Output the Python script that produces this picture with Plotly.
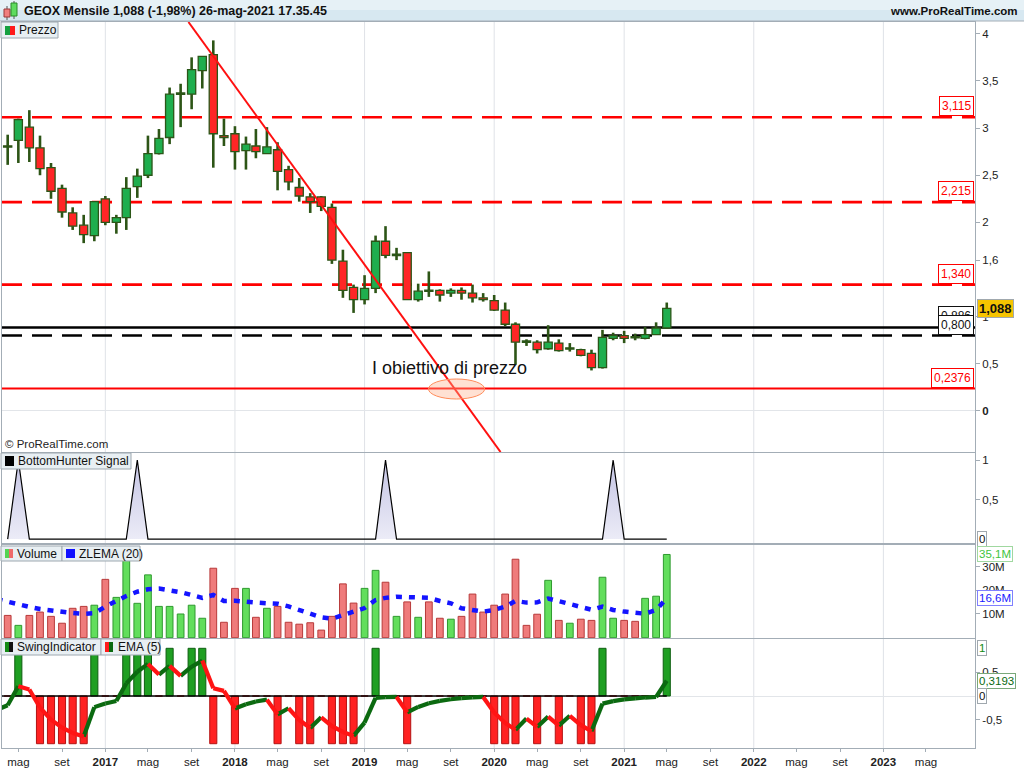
import pandas as pd
import plotly.graph_objects as go
from plotly.subplots import make_subplots

W, H = 1024, 768

# ---------------- data ----------------
MONTHS = list(pd.date_range("2016-04-01", periods=62, freq="MS"))
IND_MONTHS = list(pd.date_range("2016-03-01", periods=63, freq="MS"))

OPEN = [2.81, 2.87, 3.01, 2.79, 2.58, 2.36, 2.10, 1.97, 1.86, 2.25,
        2.00, 2.05, 2.38, 2.50, 2.73, 2.90, 3.36, 3.36, 3.61, 3.78,
        2.92, 2.94, 2.76, 2.81, 2.73, 2.77, 2.56, 2.37, 2.27, 2.27,
        2.16, 1.59, 1.31, 1.18, 1.30, 1.80, 1.65, 1.68, 1.18, 1.28,
        1.28, 1.25, 1.28, 1.25, 1.20, 1.17, 1.07, 0.92, 0.74, 0.73,
        0.66, 0.72, 0.66, 0.65, 0.61, 0.46, 0.77, 0.80, 0.785, 0.77,
        0.81, 0.88]
HIGH = [2.93, 3.10, 3.19, 2.92, 2.63, 2.40, 2.16, 2.08, 2.22, 2.28,
        2.08, 2.48, 2.57, 2.92, 2.99, 3.43, 3.47, 3.75, 3.76, 3.93,
        3.10, 3.02, 2.91, 2.99, 3.01, 2.85, 2.60, 2.47, 2.31, 2.28,
        2.20, 1.71, 1.34, 1.44, 1.86, 1.96, 1.73, 1.68, 1.35, 1.48,
        1.29, 1.30, 1.31, 1.34, 1.25, 1.23, 1.15, 0.94, 0.76, 0.75,
        0.91, 0.76, 0.72, 0.66, 0.65, 0.86, 0.83, 0.85, 0.82, 0.89,
        0.94, 1.15]
LOW = [2.61, 2.63, 2.64, 2.50, 2.25, 2.05, 1.92, 1.78, 1.80, 1.97,
       1.88, 1.92, 2.26, 2.47, 2.72, 2.83, 3.01, 3.20, 3.42, 2.58,
       2.81, 2.56, 2.56, 2.68, 2.73, 2.34, 2.34, 2.22, 2.10, 2.12,
       1.56, 1.20, 1.04, 1.13, 1.25, 1.62, 1.60, 1.18, 1.16, 1.21,
       1.16, 1.21, 1.18, 1.15, 1.16, 1.06, 0.90, 0.49, 0.69, 0.61,
       0.65, 0.63, 0.63, 0.58, 0.43, 0.45, 0.75, 0.72, 0.75, 0.76,
       0.81, 0.87]
CLOSE = [2.80, 3.09, 2.79, 2.57, 2.33, 2.11, 1.96, 1.87, 2.22, 2.00,
         2.05, 2.36, 2.49, 2.73, 2.89, 3.36, 3.37, 3.62, 3.76, 2.94,
         2.90, 2.75, 2.83, 2.75, 2.80, 2.54, 2.43, 2.28, 2.22, 2.17,
         1.60, 1.28, 1.18, 1.30, 1.80, 1.65, 1.66, 1.18, 1.27, 1.27,
         1.23, 1.28, 1.25, 1.20, 1.18, 1.07, 0.92, 0.73, 0.73, 0.65,
         0.73, 0.64, 0.665, 0.59, 0.46, 0.78, 0.80, 0.77, 0.78, 0.81,
         0.88, 1.088]

VOLUME_M = [9.4, 5.2, 9.4, 10.8, 9.0, 6.1, 12.4, 13.2, 13.7, 24.6,
            17.0, 33.0, 14.5, 26.5, 13.2, 13.2, 10.0, 13.7, 8.2, 29.3,
            6.5, 20.8, 20.8, 8.6, 12.4, 13.2, 6.5, 5.7, 6.3, 3.2,
            9.0, 22.7, 14.6, 20.8, 28.4, 23.4, 9.0, 15.1, 8.6, 15.1,
            8.2, 7.8, 9.0, 18.4, 10.8, 13.7, 18.4, 33.1, 5.2, 9.9,
            24.2, 7.3, 6.1, 7.8, 7.3, 25.5, 8.2, 7.3, 6.9, 16.6,
            17.5, 35.1]
ZLEMA_M = [16.3, 15.1, 13.9, 13.0, 12.1, 11.4, 11.0, 10.4, 10.1, 10.3,
           13.1, 15.6, 17.6, 19.4, 20.4, 20.7, 20.0, 19.2, 18.0, 16.8,
           18.0, 15.5, 15.6, 15.4, 14.8, 14.5, 14.3, 13.2, 11.7, 10.0,
           8.6, 8.0, 9.5, 10.8, 12.5, 15.9, 16.8, 17.3, 17.2, 17.3,
           16.8, 15.5, 14.5, 12.4, 11.6, 11.0, 11.7, 13.1, 15.5, 14.8,
           14.9, 16.5, 15.4, 14.2, 13.0, 11.8, 13.1, 11.7, 11.0, 10.5,
           10.1, 11.7, 16.6]

BOTTOM_HUNTER = [0, 1, 0, 0, 0, 0, 0, 0, 0, 0,
                 0, 0, 1, 0, 0, 0, 0, 0, 0, 0,
                 0, 0, 0, 0, 0, 0, 0, 0, 0, 0,
                 0, 0, 0, 0, 0, 1, 0, 0, 0, 0,
                 0, 0, 0, 0, 0, 0, 0, 0, 0, 0,
                 0, 0, 0, 0, 0, 0, 1, 0, 0, 0,
                 0, 0]

SWING = [0, 1, 0, -1, -1, -1, -1, -1, 1, 0,
         0, 1, 1, 1, 0, 1, 0, 1, 1, -1,
         0, -1, 0, 0, 0, -1, 0, -1, -1, 0,
         -1, -1, -1, 0, 1, 0, 0, -1, 0, 0,
         0, 0, 0, 0, 0, -1, -1, -1, 0, -1,
         0, -1, 0, -1, -1, 1, 0, 0, 0, 0,
         0, 1]
SWING_EMA = [-0.29, -0.193, 0.204, 0.136, -0.242, -0.495, -0.663, -0.775, -0.850, -0.233,
             -0.156, -0.104, 0.264, 0.509, 0.673, 0.449, 0.632, 0.421, 0.614, 0.743,
             0.162, 0.108, -0.261, -0.174, -0.116, -0.077, -0.385, -0.256, -0.504, -0.670,
             -0.447, -0.631, -0.754, -0.836, -0.557, -0.038, -0.025, -0.017, -0.345, -0.230,
             -0.153, -0.102, -0.068, -0.045, -0.030, -0.020, -0.347, -0.565, -0.710, -0.473,
             -0.649, -0.432, -0.622, -0.415, -0.610, -0.740, -0.160, -0.107, -0.071, -0.048,
             -0.032, -0.021, 0.3193]

DASHED_RED_LEVELS = [3.115, 2.215, 1.340]
DASHED_RED_LABELS = ["3,115", "2,215", "1,340"]
SOLID_BLACK_LEVEL, SOLID_BLACK_LABEL = 0.886, "0,886"
DASHED_BLACK_LEVEL, DASHED_BLACK_LABEL = 0.800, "0,800"
TARGET_LEVEL, TARGET_LABEL = 0.2376, "0,2376"
LAST_PRICE_LABEL = "1,088"

TREND_X = ["2017-08-23", "2020-01-19"]
TREND_Y = [4.125, -0.435]

PRICE_TICKS = [0, 0.5, 1, 1.6, 2, 2.5, 3, 3.5, 4]
PRICE_TICKTEXT = ["<b>0</b>", "0,5", "1", "1,6", "2", "2,5", "3", "3,5", "4"]

X_TICKS = []
X_TICKTEXT = []
for yr in range(2016, 2024):
    for mo, lab in [(1, None), (5, "mag"), (9, "set")]:
        d = pd.Timestamp(yr, mo, 1)
        if d < pd.Timestamp("2016-04-01") or d > pd.Timestamp("2023-06-01"):
            continue
        X_TICKS.append(d)
        X_TICKTEXT.append(lab if lab else "<b>%d</b>" % yr)

TITLE = "GEOX Mensile 1,088 (-1,98%) 26-mag-2021 17.35.45"

# ---------------- styling constants ----------------
FONT = "Liberation Sans, Arial, sans-serif"
GREEN_BODY, RED_BODY, CANDLE_EDGE = "#1fae4e", "#ff2626", "#2b5618"
DAY_MS = 86400000

def xp(px):
    return px / W

def yp(py):
    return 1 - py / H

P_TOP, P_BOT = 22, 452
B_TOP, B_BOT = 453, 543
V_TOP, V_BOT = 545, 638
S_TOP, S_BOT = 639, 748
X_L, X_R = 2, 975

fig = make_subplots(rows=4, cols=1, shared_xaxes=True, vertical_spacing=0.0)

# ---------------- price panel ----------------
up = [c >= o for o, c in zip(OPEN, CLOSE)]
body_base, body_h = [], []
for o, c in zip(OPEN, CLOSE):
    lo, hi = min(o, c), max(o, c)
    if hi - lo < 0.014:
        mid = (hi + lo) / 2
        body_base.append(mid - 0.007)
        body_h.append(0.014)
    else:
        body_base.append(lo)
        body_h.append(hi - lo)

wx, wy = [], []
for d, o, h, l, c in zip(MONTHS, OPEN, HIGH, LOW, CLOSE):
    top, bot = max(o, c), min(o, c)
    if h > top:
        wx += [d, d, None]
        wy += [h, top, None]
    if l < bot:
        wx += [d, d, None]
        wy += [bot, l, None]

fig.add_trace(go.Bar(x=MONTHS, y=body_h, base=body_base, width=23 * DAY_MS,
                     marker=dict(color=[GREEN_BODY if u else RED_BODY for u in up],
                                 line=dict(color=CANDLE_EDGE, width=1.3)),
                     hoverinfo="skip", showlegend=False), row=1, col=1)
fig.add_trace(go.Scatter(x=wx, y=wy, mode="lines", line=dict(color="#2d5516", width=2.6),
                         hoverinfo="skip", showlegend=False), row=1, col=1)
fig.add_trace(go.Scatter(x=TREND_X, y=TREND_Y, mode="lines", line=dict(color="#ff1010", width=2),
                         hoverinfo="skip", showlegend=False), row=1, col=1)

# ---------------- BottomHunter ----------------
fig.add_trace(go.Scatter(x=MONTHS, y=BOTTOM_HUNTER, mode="lines", fill="tozeroy",
                         fillgradient=dict(type="vertical",
                                           colorscale=[[0, "rgba(236,236,247,1)"],
                                                       [1, "rgba(196,196,228,1)"]]),
                         line=dict(color="#000000", width=1.2),
                         hoverinfo="skip", showlegend=False), row=2, col=1)

# ---------------- Volume ----------------
vol_up = up
fig.add_trace(go.Bar(x=MONTHS, y=[v * 1e6 for v in VOLUME_M], width=19 * DAY_MS,
                     marker=dict(color=["#62de5c" if u else "#ef7b7b" for u in vol_up],
                                 line=dict(color=["#2f9a2f" if u else "#b83a3a" for u in vol_up], width=1)),
                     hoverinfo="skip", showlegend=False), row=3, col=1)
fig.add_trace(go.Scatter(x=IND_MONTHS, y=[v * 1e6 for v in ZLEMA_M], mode="lines",
                         line=dict(color="#1414ff", width=4.5, dash="6px,7px"),
                         hoverinfo="skip", showlegend=False), row=3, col=1)

# ---------------- Swing ----------------
fig.add_trace(go.Bar(x=MONTHS, y=SWING, width=20 * DAY_MS,
                     marker=dict(color=["#1f9f22" if s > 0 else "#ff2222" for s in SWING],
                                 line=dict(color=["#0e5e10" if s > 0 else "#b41212" for s in SWING], width=1)),
                     hoverinfo="skip", showlegend=False), row=4, col=1)
fig.add_trace(go.Scatter(x=[IND_MONTHS[0], MONTHS[-1]], y=[0, 0], mode="lines",
                         line=dict(color="#000000", width=1.6),
                         hoverinfo="skip", showlegend=False), row=4, col=1)
gx, gy, rx, ry = [], [], [], []
for i in range(1, len(SWING_EMA)):
    seg_x = [IND_MONTHS[i - 1], IND_MONTHS[i], None]
    seg_y = [SWING_EMA[i - 1], SWING_EMA[i], None]
    if SWING_EMA[i] >= SWING_EMA[i - 1]:
        gx += seg_x; gy += seg_y
    else:
        rx += seg_x; ry += seg_y
fig.add_trace(go.Scatter(x=gx, y=gy, mode="lines", line=dict(color="#0b6a10", width=4.2),
                         hoverinfo="skip", showlegend=False), row=4, col=1)
fig.add_trace(go.Scatter(x=rx, y=ry, mode="lines", line=dict(color="#ff1414", width=4.2),
                         hoverinfo="skip", showlegend=False), row=4, col=1)

# ---------------- axes ----------------
def dom(top, bot):
    return [yp(bot), yp(top)]

xrange_ = ["2016-03-16", "2023-09-16"]
AX_LINE = "#a3adb6"
for r in range(1, 5):
    fig.update_xaxes(row=r, col=1, range=xrange_, domain=[xp(X_L), xp(X_R)], showgrid=False,
                     showline=True, mirror=True, linecolor=AX_LINE, linewidth=1, zeroline=False,
                     showticklabels=(r == 4), ticks="outside" if r == 4 else "",
                     tickvals=X_TICKS, ticktext=X_TICKTEXT, ticklen=3, tickcolor=AX_LINE,
                     tickfont=dict(family=FONT, size=11.5, color="#222222"))

yfont = dict(family=FONT, size=11.5, color="#222222")
fig.update_yaxes(row=1, col=1, domain=dom(P_TOP, P_BOT), range=[-0.435, 4.125],
                 tickvals=PRICE_TICKS, ticktext=PRICE_TICKTEXT)
fig.update_yaxes(row=2, col=1, domain=dom(B_TOP, B_BOT), range=[-0.05, 1.089],
                 tickvals=[0.5, 1], ticktext=["0,5", "1"])
fig.update_yaxes(row=3, col=1, domain=dom(V_TOP, V_BOT), range=[-0.13e6, 39.1e6],
                 tickvals=[10e6, 20e6, 30e6], ticktext=["10M", "20M", "30M"])
fig.update_yaxes(row=4, col=1, domain=dom(S_TOP, S_BOT), range=[-1.09, 1.195],
                 tickvals=[-0.5, 0.5], ticktext=["-0,5", "0,5"])
for r in range(1, 5):
    fig.update_yaxes(row=r, col=1, side="right", showgrid=False, showline=True, mirror=True,
                     linecolor=AX_LINE, linewidth=1, ticks="outside", ticklen=4,
                     tickcolor=AX_LINE, tickfont=yfont,
                     zeroline=(r in (1, 4)), zerolinecolor="#e2e5e9", zerolinewidth=1)

shapes = []
annos = []

# year gridlines
for r, (xa, ya) in enumerate([("x", "y"), ("x2", "y2"), ("x3", "y3"), ("x4", "y4")]):
    for yr in range(2017, 2024):
        shapes.append(dict(type="line", xref=xa, yref=ya + " domain", x0=f"{yr}-01-01",
                           x1=f"{yr}-01-01", y0=0, y1=1, layer="below",
                           line=dict(color="#dfe2e7", width=1)))

# price levels
for lv in DASHED_RED_LEVELS:
    shapes.append(dict(type="line", xref="x domain", yref="y", x0=0, x1=1, y0=lv, y1=lv,
                       layer="below", line=dict(color="#ff0000", width=2.6, dash="20px,10px")))
shapes.append(dict(type="line", xref="x domain", yref="y", x0=0, x1=1, y0=SOLID_BLACK_LEVEL,
                   y1=SOLID_BLACK_LEVEL, layer="below", line=dict(color="#000000", width=2.4)))
shapes.append(dict(type="line", xref="x domain", yref="y", x0=0, x1=1, y0=DASHED_BLACK_LEVEL,
                   y1=DASHED_BLACK_LEVEL, layer="below",
                   line=dict(color="#000000", width=2.6, dash="20px,10px")))
shapes.append(dict(type="line", xref="x domain", yref="y", x0=0, x1=1, y0=TARGET_LEVEL,
                   y1=TARGET_LEVEL, layer="below", line=dict(color="#ff0000", width=2)))

# target ellipse
shapes.append(dict(type="circle", xref="x", yref="y", x0="2019-06-30", x1="2019-12-05",
                   y0=0.127, y1=0.339, fillcolor="rgba(255,175,140,0.38)",
                   line=dict(color="#ff8c5a", width=1)))

# title bar
shapes.append(dict(type="rect", xref="paper", yref="paper", x0=0, x1=1, y0=yp(21), y1=yp(10),
                   fillcolor="#d7e8f1", line=dict(width=0), layer="below"))
shapes.append(dict(type="rect", xref="paper", yref="paper", x0=0, x1=1, y0=yp(10), y1=1,
                   fillcolor="#e6f1f6", line=dict(width=0), layer="below"))
shapes.append(dict(type="line", xref="paper", yref="paper", x0=0, x1=1, y0=yp(21), y1=yp(21),
                   line=dict(color="#a3adb6", width=1)))
# title icon
shapes.append(dict(type="line", xref="paper", yref="paper", x0=xp(7), x1=xp(7), y0=yp(6), y1=yp(20),
                   line=dict(color="#555", width=1)))
shapes.append(dict(type="rect", xref="paper", yref="paper", x0=xp(4), x1=xp(10), y0=yp(17), y1=yp(9),
                   fillcolor="#f07f7f", line=dict(color="#9a3a3a", width=1)))
shapes.append(dict(type="line", xref="paper", yref="paper", x0=xp(14), x1=xp(14), y0=yp(1), y1=yp(19),
                   line=dict(color="#555", width=1)))
shapes.append(dict(type="rect", xref="paper", yref="paper", x0=xp(11), x1=xp(17), y0=yp(16), y1=yp(3),
                   fillcolor="#5fdc5f", line=dict(color="#2a8a2a", width=1)))
annos.append(dict(xref="paper", yref="paper", x=xp(22), y=yp(11), xanchor="left", yanchor="middle",
                  text="<b>" + TITLE + "</b>", showarrow=False,
                  font=dict(family=FONT, size=12.5, color="#111111")))
annos.append(dict(xref="paper", yref="paper", x=xp(1020), y=yp(11), xanchor="right", yanchor="middle",
                  text="<b>www.ProRealTime.com</b>", showarrow=False,
                  font=dict(family=FONT, size=11.5, color="#111111")))

# legend boxes
LEG_BG, LEG_BORDER = "#e8eff3", "#9ea8b0"
def legend_box(x0, x1, y0, y1):
    shapes.append(dict(type="rect", xref="paper", yref="paper", x0=xp(x0), x1=xp(x1),
                       y0=yp(y1), y1=yp(y0), fillcolor=LEG_BG, line=dict(color=LEG_BORDER, width=1)))

def icon(x0, x1, y0, y1, color):
    shapes.append(dict(type="rect", xref="paper", yref="paper", x0=xp(x0), x1=xp(x1),
                       y0=yp(y1), y1=yp(y0), fillcolor=color, line=dict(width=0)))

def leg_text(x, y, text):
    annos.append(dict(xref="paper", yref="paper", x=xp(x), y=yp(y), xanchor="left", yanchor="middle",
                      text=text, showarrow=False, font=dict(family=FONT, size=12, color="#111111")))

legend_box(1, 58, 22, 38)
icon(5, 10, 26, 35, "#14a040"); icon(10, 15, 26, 35, "#ff1a1a")
leg_text(17, 30.5, "Prezzo")

legend_box(1, 131, 453, 469)
icon(5, 14, 456, 466, "#000000")
leg_text(16, 461, "BottomHunter Signal")

legend_box(1, 62, 546, 561)
legend_box(62, 140, 546, 561)
icon(5, 9, 549, 558, "#55d455"); icon(9, 13, 549, 558, "#ef6b6b")
leg_text(15, 553.5, "Volume")
icon(66, 75, 549, 558, "#1010ff")
leg_text(77, 553.5, "ZLEMA (20)")

legend_box(1, 101, 639, 655)
legend_box(101, 160, 639, 655)
icon(5, 9, 642, 652, "#148a14"); icon(9, 13, 642, 652, "#111111")
leg_text(15, 647, "SwingIndicator")
icon(105, 109, 642, 652, "#ff1a1a"); icon(109, 113, 642, 652, "#0b6a10")
leg_text(116, 647, "EMA (5)")

annos.append(dict(xref="paper", yref="paper", x=xp(3), y=yp(444), xanchor="left", yanchor="middle",
                  text="© ProRealTime.com", showarrow=False,
                  font=dict(family=FONT, size=11.5, color="#222222")))

annos.append(dict(xref="x", yref="y", x="2019-08-28", y=0.456, xanchor="center", yanchor="middle",
                  text="I obiettivo di prezzo", showarrow=False,
                  font=dict(family=FONT, size=18, color="#111111")))

# level labels
def level_label(y, text, color, border):
    annos.append(dict(xref="x domain", yref="y", x=1, y=y, xanchor="right", yanchor="bottom",
                      yshift=1, xshift=-1, text=text, showarrow=False, bgcolor="#ffffff",
                      bordercolor=border, borderwidth=1, borderpad=2,
                      font=dict(family=FONT, size=12, color=color)))

for lv, lab in zip(DASHED_RED_LEVELS, DASHED_RED_LABELS):
    level_label(lv, lab, "#ff0000", "#ff0000")
level_label(TARGET_LEVEL, TARGET_LABEL, "#ff0000", "#ff0000")
level_label(SOLID_BLACK_LEVEL, SOLID_BLACK_LABEL, "#111111", "#111111")
level_label(DASHED_BLACK_LEVEL, DASHED_BLACK_LABEL, "#111111", "#111111")

# right badges
def badge(yref, y, text, color, bg, border, bold=False):
    annos.append(dict(xref="paper", yref=yref, x=xp(977), y=y, xanchor="left", yanchor="middle",
                      text=("<b>%s</b>" % text) if bold else text, showarrow=False, bgcolor=bg,
                      bordercolor=border, borderwidth=1, borderpad=1,
                      font=dict(family=FONT, size=13 if bold else 11.5, color=color)))

badge("y", CLOSE[-1], LAST_PRICE_LABEL, "#111111", "#f6c400", "#a0a8ae", bold=True)
badge("y2", 0, "0", "#111111", "#ffffff", "#a0a8ae")
badge("y3", VOLUME_M[-1] * 1e6, "35,1M", "#3ec43e", "#ffffff", "#a0d8a0")
badge("y3", ZLEMA_M[-1] * 1e6, "16,6M", "#1a1aff", "#ffffff", "#8080ff")
badge("y4", SWING[-1], "1", "#138a13", "#ffffff", "#a0a8ae")
badge("y4", SWING_EMA[-1], "0,3193", "#0b6a10", "#ffffff", "#7aa87a")
badge("y4", 0, "0", "#111111", "#ffffff", "#a0a8ae")

fig.update_layout(width=W, height=H, margin=dict(l=0, r=0, t=0, b=0),
                  paper_bgcolor="#ffffff", plot_bgcolor="#ffffff",
                  barmode="overlay", showlegend=False, hovermode=False,
                  shapes=shapes, annotations=annos,
                  font=dict(family=FONT, size=11, color="#222222"))

fig.write_html("out.html", config={"displayModeBar": False},
               post_script="document.body.style.margin='0';document.body.style.overflow='hidden';")
